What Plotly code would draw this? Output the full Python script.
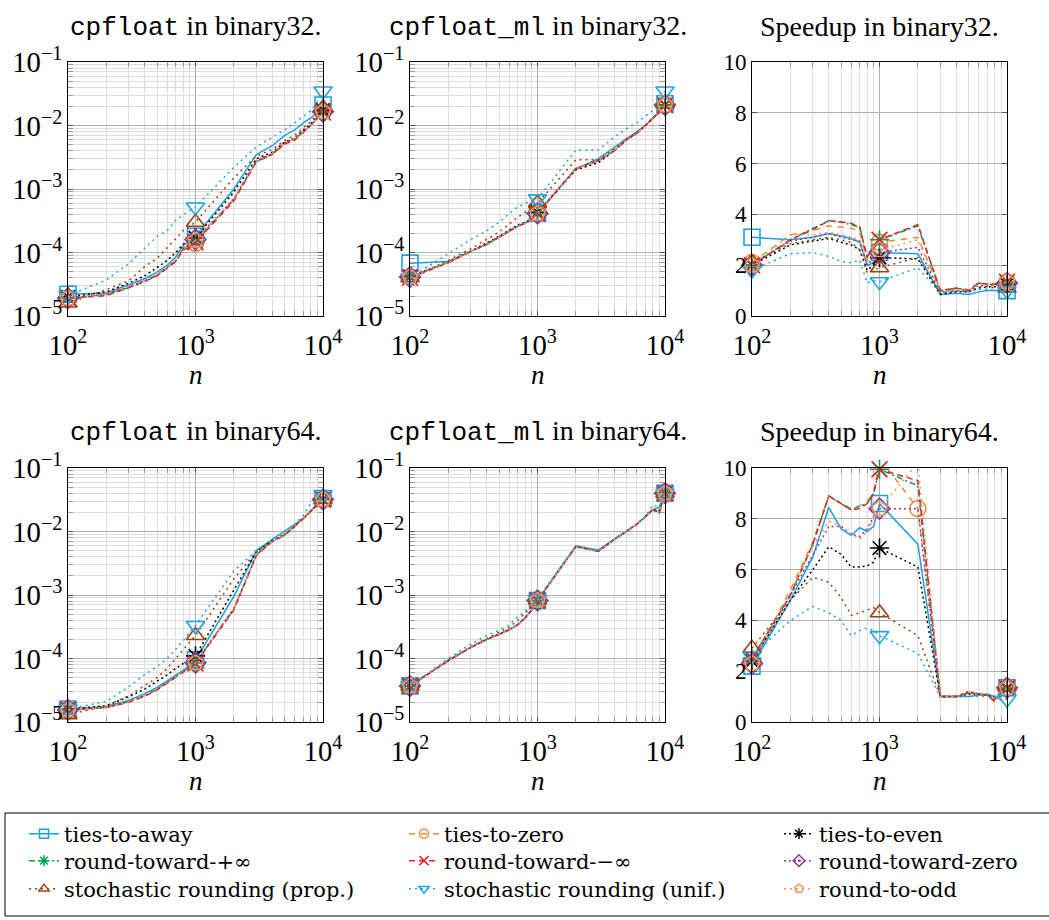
import plotly.graph_objects as go

# ---------------- data ----------------
N = [100, 200, 300, 400, 500, 600, 700, 800, 900, 1000,
     2000, 3000, 4000, 5000, 6000, 7000, 8000, 9000, 10000]
MARK_N = [100, 1000, 10000]
# in the binary64 speedup panel, ties-to-zero leaves the plot at n=1000 and is marked at n=2000
P6_ZERO_MARK_N = [100, 1000, 2000, 10000]

NAMES = ["ties-to-away", "ties-to-zero", "ties-to-even",
         "round-toward-+∞", "round-toward-−∞", "round-toward-zero",
         "stochastic rounding (prop.)", "stochastic rounding (unif.)", "round-to-odd"]

# Panel 1: cpfloat in binary32 (error)
P1_AWAY = [2.2e-5, 2.3e-5, 3.1e-5, 3.9e-5, 4.9e-5, 6.3e-5, 8.5e-5, 1.3e-4, 1.5e-4, 1.8e-4, 1.0e-3, 3.5e-3, 4.8e-3, 7.0e-3, 8.5e-3, 1.1e-2, 1.3e-2, 1.6e-2, 2.1e-2]
P1_ZERO = [1.9e-5, 2.2e-5, 2.9e-5, 3.6e-5, 4.5e-5, 5.8e-5, 7.5e-5, 1.15e-4, 1.3e-4, 1.4e-4, 7.0e-4, 2.8e-3, 3.6e-3, 5.3e-3, 6.0e-3, 8.0e-3, 1.0e-2, 1.3e-2, 1.65e-2]
P1_EVEN = [2.0e-5, 2.4e-5, 3.3e-5, 4.3e-5, 5.8e-5, 7.5e-5, 1.0e-4, 1.35e-4, 1.6e-4, 1.7e-4, 9.0e-4, 3.0e-3, 3.8e-3, 5.5e-3, 6.3e-3, 8.5e-3, 1.05e-2, 1.35e-2, 1.75e-2]
P1_UP   = [1.9e-5, 2.2e-5, 2.8e-5, 3.5e-5, 4.4e-5, 5.7e-5, 7.3e-5, 1.15e-4, 1.25e-4, 1.5e-4, 6.8e-4, 2.7e-3, 3.5e-3, 5.2e-3, 6.0e-3, 8.0e-3, 1.0e-2, 1.3e-2, 1.65e-2]
P1_DOWN = [1.9e-5, 2.1e-5, 2.8e-5, 3.5e-5, 4.3e-5, 5.6e-5, 7.2e-5, 1.1e-4, 1.2e-4, 1.45e-4, 6.5e-4, 2.7e-3, 3.5e-3, 5.1e-3, 5.9e-3, 7.8e-3, 1.0e-2, 1.3e-2, 1.6e-2]
P1_RZ   = [1.9e-5, 2.2e-5, 2.9e-5, 3.6e-5, 4.5e-5, 5.8e-5, 7.5e-5, 1.2e-4, 1.3e-4, 1.6e-4, 7.0e-4, 2.8e-3, 3.6e-3, 5.4e-3, 6.1e-3, 8.1e-3, 1.0e-2, 1.3e-2, 1.65e-2]
P1_SRP  = [1.6e-5, 2.6e-5, 3.6e-5, 6.0e-5, 8.1e-5, 1.2e-4, 1.7e-4, 2.2e-4, 2.6e-4, 3.0e-4, 1.5e-3, 3.3e-3, 4.2e-3, 5.8e-3, 7.0e-3, 9.0e-3, 1.15e-2, 1.5e-2, 1.9e-2]
P1_SRU  = [2.1e-5, 3.7e-5, 6.7e-5, 1.15e-4, 1.8e-4, 2.2e-4, 3.2e-4, 3.9e-4, 4.6e-4, 5.2e-4, 2.2e-3, 4.6e-3, 6.5e-3, 8.5e-3, 1.1e-2, 1.4e-2, 1.7e-2, 2.3e-2, 3.5e-2]
P1_ODD  = [1.9e-5, 2.2e-5, 2.9e-5, 3.6e-5, 4.5e-5, 5.8e-5, 7.6e-5, 1.2e-4, 1.3e-4, 1.55e-4, 7.0e-4, 2.8e-3, 3.6e-3, 5.4e-3, 6.1e-3, 8.1e-3, 1.0e-2, 1.3e-2, 1.65e-2]

# Panel 2: cpfloat_ml in binary32 (error)
P2_AWAY = [6.8e-5, 7.2e-5, 1.05e-4, 1.35e-4, 1.75e-4, 2.2e-4, 2.6e-4, 2.9e-4, 3.3e-4, 4.2e-4, 2.1e-3, 3.0e-3, 4.5e-3, 6.2e-3, 7.8e-3, 1.0e-2, 1.3e-2, 1.65e-2, 2.2e-2]
P2_ZERO = [4.1e-5, 7.0e-5, 1.05e-4, 1.35e-4, 1.75e-4, 2.2e-4, 2.6e-4, 2.9e-4, 3.3e-4, 4.1e-4, 2.1e-3, 2.8e-3, 4.0e-3, 6.0e-3, 7.5e-3, 1.0e-2, 1.3e-2, 1.6e-2, 2.1e-2]
P2_EVEN = [4.2e-5, 7.1e-5, 1.05e-4, 1.4e-4, 1.8e-4, 2.25e-4, 2.7e-4, 3.0e-4, 3.4e-4, 4.3e-4, 2.0e-3, 2.6e-3, 4.0e-3, 6.0e-3, 7.5e-3, 1.0e-2, 1.3e-2, 1.6e-2, 2.1e-2]
P2_UP   = [4.1e-5, 7.0e-5, 1.05e-4, 1.35e-4, 1.75e-4, 2.2e-4, 2.6e-4, 2.9e-4, 3.3e-4, 4.1e-4, 2.1e-3, 2.8e-3, 4.0e-3, 6.0e-3, 7.5e-3, 1.0e-2, 1.3e-2, 1.6e-2, 2.1e-2]
P2_DOWN = [4.0e-5, 6.9e-5, 1.04e-4, 1.35e-4, 1.75e-4, 2.2e-4, 2.6e-4, 2.9e-4, 3.3e-4, 4.1e-4, 2.1e-3, 2.8e-3, 4.0e-3, 6.0e-3, 7.5e-3, 1.0e-2, 1.3e-2, 1.6e-2, 2.1e-2]
P2_RZ   = [4.1e-5, 7.0e-5, 1.05e-4, 1.35e-4, 1.75e-4, 2.2e-4, 2.6e-4, 2.9e-4, 3.3e-4, 4.1e-4, 2.1e-3, 2.8e-3, 4.0e-3, 6.0e-3, 7.5e-3, 1.0e-2, 1.3e-2, 1.6e-2, 2.1e-2]
P2_SRP  = [4.0e-5, 7.5e-5, 1.15e-4, 1.6e-4, 2.1e-4, 2.8e-4, 3.6e-4, 4.3e-4, 5.2e-4, 6.0e-4, 2.9e-3, 2.9e-3, 4.3e-3, 6.1e-3, 7.7e-3, 1.0e-2, 1.3e-2, 1.65e-2, 2.2e-2]
P2_SRU  = [4.0e-5, 9.7e-5, 1.6e-4, 2.2e-4, 3.0e-4, 4.1e-4, 5.2e-4, 5.9e-4, 6.6e-4, 7.0e-4, 4.1e-3, 4.1e-3, 6.6e-3, 8.9e-3, 1.1e-2, 1.4e-2, 1.7e-2, 2.3e-2, 3.5e-2]
P2_ODD  = [4.1e-5, 7.0e-5, 1.05e-4, 1.35e-4, 1.75e-4, 2.2e-4, 2.6e-4, 2.9e-4, 3.3e-4, 4.1e-4, 2.1e-3, 2.8e-3, 4.0e-3, 6.0e-3, 7.5e-3, 1.0e-2, 1.3e-2, 1.6e-2, 2.1e-2]

# Panel 3: speedup in binary32
P3_AWAY = [3.1, 3.0, 3.1, 3.25, 3.15, 3.05, 2.9, 2.0, 2.1, 2.5, 2.45, 0.85, 0.9, 0.85, 0.95, 1.0, 1.0, 1.0, 1.0]
P3_ZERO = [2.1, 3.2, 3.35, 3.55, 3.5, 3.45, 3.35, 2.2, 2.6, 2.9, 3.1, 1.0, 1.05, 1.05, 1.3, 1.25, 1.25, 1.25, 1.35]
P3_EVEN = [2.0, 2.8, 2.95, 3.05, 2.9, 2.8, 2.6, 1.8, 2.0, 2.3, 2.25, 0.85, 0.95, 0.95, 1.1, 1.15, 1.15, 1.15, 1.25]
P3_UP   = [2.0, 3.0, 3.45, 3.75, 3.7, 3.6, 3.5, 2.3, 2.8, 3.0, 3.55, 1.0, 1.1, 1.0, 1.3, 1.25, 1.25, 1.3, 1.35]
P3_DOWN = [2.0, 3.0, 3.4, 3.75, 3.7, 3.65, 3.5, 2.3, 2.8, 3.0, 3.6, 1.0, 1.1, 1.0, 1.3, 1.25, 1.25, 1.3, 1.35]
P3_RZ   = [2.0, 2.95, 3.1, 3.25, 3.1, 3.0, 2.95, 2.0, 2.3, 2.5, 2.7, 0.95, 1.0, 1.0, 1.2, 1.2, 1.2, 1.25, 1.3]
P3_SRP  = [2.1, 2.85, 3.0, 3.1, 3.0, 2.9, 2.6, 1.7, 1.8, 1.9, 2.3, 0.9, 1.0, 0.95, 1.15, 1.15, 1.1, 1.1, 1.1]
P3_SRU  = [1.8, 2.45, 2.5, 2.35, 2.15, 2.1, 2.2, 1.3, 1.4, 1.35, 1.9, 0.9, 1.0, 0.95, 1.05, 1.05, 1.0, 1.0, 1.0]
P3_ODD  = [2.0, 3.2, 3.2, 3.3, 3.2, 3.1, 3.0, 2.1, 2.4, 2.6, 3.0, 0.95, 1.05, 1.0, 1.25, 1.25, 1.2, 1.25, 1.35]

# Panel 4: cpfloat in binary64 (error)
P4_AWAY = [1.6e-5, 1.75e-5, 2.2e-5, 2.8e-5, 3.5e-5, 4.4e-5, 5.5e-5, 6.5e-5, 7.8e-5, 9.5e-5, 9.5e-4, 5.0e-3, 7.5e-3, 1.0e-2, 1.3e-2, 1.6e-2, 2.1e-2, 2.6e-2, 3.3e-2]
P4_ZERO = [1.55e-5, 1.7e-5, 2.1e-5, 2.6e-5, 3.3e-5, 4.2e-5, 5.1e-5, 6.1e-5, 7.2e-5, 8.5e-5, 6.0e-4, 4.3e-3, 7.0e-3, 8.8e-3, 1.2e-2, 1.6e-2, 2.1e-2, 2.6e-2, 3.2e-2]
P4_EVEN = [1.6e-5, 1.8e-5, 2.5e-5, 3.3e-5, 4.4e-5, 5.5e-5, 7.0e-5, 8.3e-5, 9.7e-5, 1.1e-4, 1.2e-3, 4.8e-3, 7.2e-3, 9.0e-3, 1.2e-2, 1.6e-2, 2.1e-2, 2.6e-2, 3.2e-2]
P4_UP   = [1.55e-5, 1.7e-5, 2.1e-5, 2.6e-5, 3.3e-5, 4.2e-5, 5.1e-5, 6.1e-5, 7.2e-5, 8.5e-5, 6.0e-4, 4.3e-3, 7.0e-3, 8.8e-3, 1.2e-2, 1.6e-2, 2.1e-2, 2.6e-2, 3.2e-2]
P4_DOWN = [1.55e-5, 1.7e-5, 2.05e-5, 2.55e-5, 3.2e-5, 4.1e-5, 5.0e-5, 6.0e-5, 7.1e-5, 8.4e-5, 5.8e-4, 4.2e-3, 7.0e-3, 8.7e-3, 1.2e-2, 1.6e-2, 2.1e-2, 2.6e-2, 3.2e-2]
P4_RZ   = [1.55e-5, 1.7e-5, 2.1e-5, 2.6e-5, 3.3e-5, 4.2e-5, 5.2e-5, 6.2e-5, 7.3e-5, 8.6e-5, 6.2e-4, 4.3e-3, 7.0e-3, 8.8e-3, 1.2e-2, 1.6e-2, 2.1e-2, 2.6e-2, 3.2e-2]
P4_SRP  = [1.3e-5, 1.8e-5, 2.6e-5, 3.8e-5, 5.0e-5, 7.0e-5, 1.0e-4, 1.4e-4, 1.8e-4, 2.3e-4, 1.8e-3, 4.8e-3, 7.0e-3, 9.0e-3, 1.2e-2, 1.6e-2, 2.1e-2, 2.6e-2, 3.2e-2]
P4_SRU  = [1.6e-5, 2.1e-5, 3.6e-5, 5.6e-5, 7.5e-5, 1.0e-4, 1.4e-4, 1.9e-4, 2.6e-4, 3.3e-4, 2.4e-3, 5.0e-3, 7.2e-3, 1.0e-2, 1.3e-2, 1.8e-2, 2.8e-2, 3.0e-2, 3.8e-2]
P4_ODD  = [1.55e-5, 1.7e-5, 2.1e-5, 2.6e-5, 3.3e-5, 4.2e-5, 5.1e-5, 6.1e-5, 7.2e-5, 8.5e-5, 6.0e-4, 4.3e-3, 7.0e-3, 8.8e-3, 1.2e-2, 1.6e-2, 2.1e-2, 2.6e-2, 3.2e-2]

# Panel 5: cpfloat_ml in binary64 (error)
P5_AWAY = [3.7e-5, 9.3e-5, 1.5e-4, 2.0e-4, 2.4e-4, 2.85e-4, 3.4e-4, 4.4e-4, 5.8e-4, 8.2e-4, 5.9e-3, 5.1e-3, 7.6e-3, 1.0e-2, 1.3e-2, 1.7e-2, 2.2e-2, 2.4e-2, 4.0e-2]
P5_ZERO = [3.7e-5, 9.3e-5, 1.5e-4, 2.0e-4, 2.4e-4, 2.85e-4, 3.4e-4, 4.4e-4, 5.8e-4, 8.2e-4, 5.8e-3, 4.9e-3, 7.5e-3, 1.0e-2, 1.3e-2, 1.7e-2, 2.2e-2, 2.0e-2, 4.0e-2]
P5_EVEN = [3.7e-5, 9.3e-5, 1.5e-4, 2.0e-4, 2.4e-4, 2.85e-4, 3.4e-4, 4.4e-4, 5.8e-4, 8.2e-4, 5.8e-3, 4.9e-3, 7.5e-3, 1.0e-2, 1.3e-2, 1.7e-2, 2.2e-2, 2.1e-2, 4.0e-2]
P5_UP   = [3.7e-5, 9.3e-5, 1.5e-4, 2.0e-4, 2.4e-4, 2.85e-4, 3.4e-4, 4.4e-4, 5.8e-4, 8.2e-4, 5.8e-3, 4.9e-3, 7.5e-3, 1.0e-2, 1.3e-2, 1.7e-2, 2.2e-2, 2.0e-2, 4.0e-2]
P5_DOWN = [3.7e-5, 9.2e-5, 1.5e-4, 2.0e-4, 2.4e-4, 2.85e-4, 3.4e-4, 4.4e-4, 5.8e-4, 8.2e-4, 5.8e-3, 4.9e-3, 7.5e-3, 1.0e-2, 1.3e-2, 1.7e-2, 2.2e-2, 1.95e-2, 4.0e-2]
P5_RZ   = [3.7e-5, 9.3e-5, 1.5e-4, 2.0e-4, 2.4e-4, 2.85e-4, 3.4e-4, 4.4e-4, 5.8e-4, 8.2e-4, 5.8e-3, 4.9e-3, 7.5e-3, 1.0e-2, 1.3e-2, 1.7e-2, 2.2e-2, 2.0e-2, 4.0e-2]
P5_SRP  = [3.7e-5, 9.5e-5, 1.55e-4, 2.1e-4, 2.6e-4, 3.1e-4, 4.0e-4, 5.2e-4, 6.5e-4, 8.4e-4, 5.9e-3, 4.9e-3, 7.5e-3, 1.0e-2, 1.3e-2, 1.7e-2, 2.2e-2, 2.1e-2, 4.0e-2]
P5_SRU  = [3.7e-5, 1.0e-4, 1.7e-4, 2.3e-4, 2.8e-4, 3.4e-4, 4.5e-4, 5.5e-4, 7.0e-4, 8.5e-4, 6.0e-3, 5.0e-3, 7.6e-3, 1.0e-2, 1.3e-2, 1.7e-2, 2.6e-2, 2.4e-2, 4.0e-2]
P5_ODD  = [3.7e-5, 9.3e-5, 1.5e-4, 2.0e-4, 2.4e-4, 2.85e-4, 3.4e-4, 4.4e-4, 5.8e-4, 8.2e-4, 5.8e-3, 4.9e-3, 7.5e-3, 1.0e-2, 1.3e-2, 1.7e-2, 2.2e-2, 2.0e-2, 4.0e-2]

# Panel 6: speedup in binary64
P6_AWAY = [2.2, 4.8, 6.5, 8.45, 7.6, 7.35, 7.65, 7.5, 7.7, 8.6, 7.0, 1.0, 1.0, 1.0, 1.05, 1.1, 1.0, 1.0, 1.35]
P6_ZERO = [2.3, 5.2, 7.1, 8.9, 8.6, 8.4, 8.5, 8.7, 9.0, 10.4, 8.4, 1.0, 1.0, 1.15, 1.1, 1.05, 0.9, 1.1, 1.35]
P6_EVEN = [2.4, 4.8, 6.0, 6.9, 6.6, 6.1, 6.1, 6.15, 6.3, 6.85, 6.1, 1.0, 1.0, 1.1, 1.1, 1.05, 1.0, 1.1, 1.3]
P6_UP   = [2.5, 5.0, 7.0, 8.9, 8.6, 8.35, 8.5, 8.6, 9.0, 9.95, 9.3, 1.0, 1.0, 1.15, 1.1, 1.05, 0.85, 1.1, 1.35]
P6_DOWN = [2.5, 5.0, 7.0, 8.9, 8.6, 8.35, 8.4, 8.6, 9.0, 9.95, 9.5, 1.0, 1.0, 1.15, 1.1, 1.05, 0.8, 1.1, 1.35]
P6_RZ   = [2.3, 5.0, 6.6, 7.7, 7.7, 7.4, 7.3, 7.6, 8.1, 8.4, 8.4, 1.0, 1.0, 1.2, 1.1, 1.1, 0.9, 1.1, 1.35]
P6_SRP  = [2.9, 4.8, 5.7, 5.5, 4.9, 4.2, 4.3, 4.4, 4.5, 4.3, 3.4, 1.0, 1.0, 1.2, 1.1, 1.05, 0.9, 1.1, 1.4]
P6_SRU  = [2.6, 4.0, 4.55, 4.3, 4.0, 3.4, 3.6, 3.7, 3.6, 3.4, 2.7, 1.0, 1.0, 1.0, 1.0, 1.0, 1.0, 0.85, 0.9]
P6_ODD  = [2.3, 5.1, 6.9, 7.9, 7.7, 7.4, 7.2, 7.5, 8.0, 8.4, 10.2, 1.0, 1.0, 1.2, 1.1, 1.1, 0.9, 1.1, 1.35]

TITLES = [("cpfloat", " in binary32."), ("cpfloat_ml", " in binary32."), (None, "Speedup in binary32."),
          ("cpfloat", " in binary64."), ("cpfloat_ml", " in binary64."), (None, "Speedup in binary64.")]

PANELS = [
    [P1_AWAY, P1_ZERO, P1_EVEN, P1_UP, P1_DOWN, P1_RZ, P1_SRP, P1_SRU, P1_ODD],
    [P2_AWAY, P2_ZERO, P2_EVEN, P2_UP, P2_DOWN, P2_RZ, P2_SRP, P2_SRU, P2_ODD],
    [P3_AWAY, P3_ZERO, P3_EVEN, P3_UP, P3_DOWN, P3_RZ, P3_SRP, P3_SRU, P3_ODD],
    [P4_AWAY, P4_ZERO, P4_EVEN, P4_UP, P4_DOWN, P4_RZ, P4_SRP, P4_SRU, P4_ODD],
    [P5_AWAY, P5_ZERO, P5_EVEN, P5_UP, P5_DOWN, P5_RZ, P5_SRP, P5_SRU, P5_ODD],
    [P6_AWAY, P6_ZERO, P6_EVEN, P6_UP, P6_DOWN, P6_RZ, P6_SRP, P6_SRU, P6_ODD],
]

# ---------------- styles ----------------
COLORS = ["#1ba1e2", "#f28a3c", "#000000", "#00a04f", "#e8212b", "#8e3b98", "#a0420b", "#1fa6e6", "#f7955a"]
DASHES = ["solid", "6px,6px", "2px,3px", "6px,3px,2px,3px", "6px,4px", "2px,3px", "2px,4px", "2px,4px", "2px,4px"]
SYMBOLS = ["square-open", "circle-open", "asterisk-open", "asterisk-open", "x-thin-open",
           "diamond-open-dot", "triangle-up-open", "triangle-down-open", "pentagon-open"]

SERIF = "Liberation Serif"
LEG_FONT = "DejaVu Serif"
MONO = "Liberation Mono"
W, H = 1049, 920

COLS = [(68, 323), (410, 665), (752, 1007)]
ROWS = [(62, 316), (468, 722)]


def px(x):
    return x / W


def py(y):
    return 1 - y / H


fig = go.Figure()
layout = dict()

for p in range(6):
    r, c = divmod(p, 3)
    idx = p + 1
    xa = "x" if idx == 1 else f"x{idx}"
    ya = "y" if idx == 1 else f"y{idx}"
    speed = (c == 2)
    xdom = [px(COLS[c][0]), px(COLS[c][1])]
    ydom = [py(ROWS[r][1]), py(ROWS[r][0])]
    layout["xaxis" if idx == 1 else f"xaxis{idx}"] = dict(
        type="log", range=[2, 4], domain=xdom, anchor=ya, dtick=1, automargin=False,
        exponentformat="power", showgrid=True, gridcolor="#b0b0b0", gridwidth=1,
        minor=dict(dtick="D1", showgrid=True, gridcolor="#dedede", ticks="inside",
                   ticklen=5, tickcolor="#9a9a9a", tickwidth=1),
        ticks="inside", ticklen=5, tickcolor="#555", showline=True, linecolor="black",
        linewidth=1, mirror="ticks", zeroline=False, ticklabelstandoff=5,
        tickfont=dict(family=SERIF, size=23, color="black"),
    )
    if speed:
        yax = dict(type="linear", range=[0, 10], dtick=2, showgrid=True, gridcolor="#b0b0b0",
                   ticks="inside", ticklen=5, tickcolor="#555")
    else:
        yax = dict(type="log", range=[-5, -1], dtick=1, exponentformat="power",
                   showgrid=True, gridcolor="#b0b0b0",
                   minor=dict(dtick="D1", showgrid=True, gridcolor="#dedede", ticks="inside",
                              ticklen=5, tickcolor="#9a9a9a", tickwidth=1),
                   ticks="inside", ticklen=5, tickcolor="#555")
    yax.update(domain=ydom, anchor=xa, showline=True, linecolor="black", linewidth=1,
               mirror="ticks", zeroline=False, automargin=False,
               tickfont=dict(family=SERIF, size=23, color="black"))
    layout["yaxis" if idx == 1 else f"yaxis{idx}"] = yax

    for s in range(9):
        vals = PANELS[p][s]
        fig.add_trace(go.Scatter(
            x=N, y=vals, xaxis=xa, yaxis=ya, mode="lines",
            line=dict(color=COLORS[s], width=1.5, dash=DASHES[s]),
            showlegend=False, hoverinfo="skip"))
        marks = P6_ZERO_MARK_N if (p == 5 and s == 1) else MARK_N
        ymax = 10 if speed else 1e-1
        mx = [n for n in marks if vals[N.index(n)] <= ymax]
        my = [vals[N.index(n)] for n in mx]
        fig.add_trace(go.Scatter(
            x=mx, y=my, xaxis=xa, yaxis=ya, mode="markers", cliponaxis=False,
            marker=dict(symbol=SYMBOLS[s], size=16, color=COLORS[s],
                        line=dict(color=COLORS[s], width=1.6)),
            showlegend=False, hoverinfo="skip"))

# legend entries: one small legend per entry, laid out in 3 columns x 3 rows
LEG_X = [24, 404, 779]
LEG_Y = [834, 861, 889]
for s in range(9):
    key = "legend" if s == 0 else f"legend{s + 1}"
    fig.add_trace(go.Scatter(
        x=[None], y=[None], mode="lines+markers", name=NAMES[s],
        line=dict(color=COLORS[s], width=1.5, dash=DASHES[s]),
        marker=dict(symbol=SYMBOLS[s], size=9, color=COLORS[s],
                    line=dict(color=COLORS[s], width=1.5)),
        legend=key, showlegend=True))
    row, col = divmod(s, 3)
    layout[key] = dict(x=px(LEG_X[col]), y=py(LEG_Y[row]), xanchor="left", yanchor="middle",
                       font=dict(family=LEG_FONT, size=21, color="black"),
                       bgcolor="rgba(0,0,0,0)", borderwidth=0, itemwidth=30)

annotations = []
for p in range(6):
    r, c = divmod(p, 3)
    cx = (COLS[c][0] + COLS[c][1]) / 2
    mono, rest = TITLES[p]
    if mono:
        text = f"<span style='font-family:{MONO};font-size:26px'>{mono}</span>{rest}"
    else:
        text = rest
    ty = 27 if r == 0 else 431
    annotations.append(dict(x=px(cx), y=py(ty), xref="paper", yref="paper", text=text,
                            showarrow=False, xanchor="center", yanchor="middle",
                            font=dict(family=SERIF, size=28, color="black")))
    ny = 375 if r == 0 else 781
    annotations.append(dict(x=px(cx), y=py(ny), xref="paper", yref="paper", text="<i>n</i>",
                            showarrow=False, xanchor="center", yanchor="middle",
                            font=dict(family=SERIF, size=27, color="black")))

shapes = [dict(type="rect", xref="paper", yref="paper", x0=px(5), x1=1.2,
               y0=py(916), y1=py(813), line=dict(color="black", width=1))]

fig.update_layout(
    width=W, height=H, margin=dict(l=0, r=0, t=0, b=0, autoexpand=False),
    paper_bgcolor="white", plot_bgcolor="white",
    annotations=annotations, shapes=shapes, **layout)

fig.write_html("out.html")
